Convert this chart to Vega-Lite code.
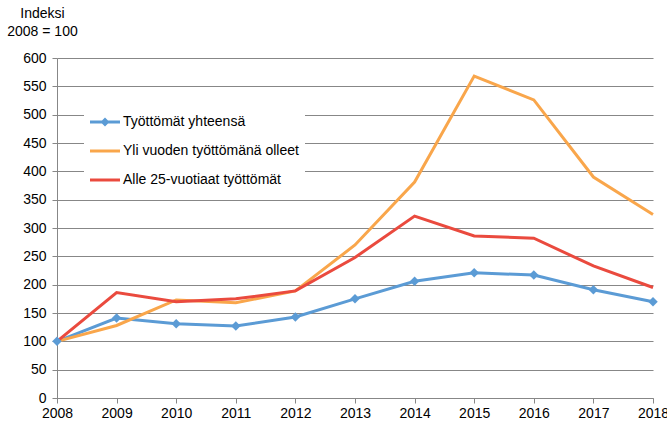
{
  "$schema": "https://vega.github.io/schema/vega-lite/v6.json",
  "width": 596,
  "height": 340,
  "autosize": {"type": "none"},
  "padding": {"left": 57, "top": 58, "right": 14, "bottom": 27},
  "background": "white",
  "config": {
    "font": "Liberation Sans",
    "view": {"stroke": null},
    "axis": {"labelFont": "Liberation Sans", "labelFontSize": 14, "labelColor": "#000", "domainColor": "#878787", "tickColor": "#878787", "gridColor": "#878787", "titleFont": "Liberation Sans"}
  },
  "data": {"values": [
    {"year": 2008, "series": "Työttömät yhteensä", "value": 100},
    {"year": 2009, "series": "Työttömät yhteensä", "value": 141},
    {"year": 2010, "series": "Työttömät yhteensä", "value": 131},
    {"year": 2011, "series": "Työttömät yhteensä", "value": 127},
    {"year": 2012, "series": "Työttömät yhteensä", "value": 143},
    {"year": 2013, "series": "Työttömät yhteensä", "value": 175},
    {"year": 2014, "series": "Työttömät yhteensä", "value": 206},
    {"year": 2015, "series": "Työttömät yhteensä", "value": 221},
    {"year": 2016, "series": "Työttömät yhteensä", "value": 217},
    {"year": 2017, "series": "Työttömät yhteensä", "value": 191},
    {"year": 2018, "series": "Työttömät yhteensä", "value": 170},
    {"year": 2008, "series": "Yli vuoden työttömänä olleet", "value": 100},
    {"year": 2009, "series": "Yli vuoden työttömänä olleet", "value": 128},
    {"year": 2010, "series": "Yli vuoden työttömänä olleet", "value": 173},
    {"year": 2011, "series": "Yli vuoden työttömänä olleet", "value": 168},
    {"year": 2012, "series": "Yli vuoden työttömänä olleet", "value": 189},
    {"year": 2013, "series": "Yli vuoden työttömänä olleet", "value": 270},
    {"year": 2014, "series": "Yli vuoden työttömänä olleet", "value": 381},
    {"year": 2015, "series": "Yli vuoden työttömänä olleet", "value": 568},
    {"year": 2016, "series": "Yli vuoden työttömänä olleet", "value": 526},
    {"year": 2017, "series": "Yli vuoden työttömänä olleet", "value": 390},
    {"year": 2018, "series": "Yli vuoden työttömänä olleet", "value": 324},
    {"year": 2008, "series": "Alle 25-vuotiaat työttömät", "value": 100},
    {"year": 2009, "series": "Alle 25-vuotiaat työttömät", "value": 186},
    {"year": 2010, "series": "Alle 25-vuotiaat työttömät", "value": 170},
    {"year": 2011, "series": "Alle 25-vuotiaat työttömät", "value": 175},
    {"year": 2012, "series": "Alle 25-vuotiaat työttömät", "value": 189},
    {"year": 2013, "series": "Alle 25-vuotiaat työttömät", "value": 248},
    {"year": 2014, "series": "Alle 25-vuotiaat työttömät", "value": 321},
    {"year": 2015, "series": "Alle 25-vuotiaat työttömät", "value": 286},
    {"year": 2016, "series": "Alle 25-vuotiaat työttömät", "value": 282},
    {"year": 2017, "series": "Alle 25-vuotiaat työttömät", "value": 233},
    {"year": 2018, "series": "Alle 25-vuotiaat työttömät", "value": 195}
  ]},
  "encoding": {
    "x": {"field": "year", "type": "quantitative",
      "scale": {"domain": [2008, 2018], "nice": false, "zero": false},
      "axis": {"title": null, "values": [2008,2009,2010,2011,2012,2013,2014,2015,2016,2017,2018], "format": "d", "grid": false, "tickSize": 5, "labelPadding": 3, "labelFlush": false, "labelOverlap": false}},
    "y": {"field": "value", "type": "quantitative",
      "scale": {"domain": [0, 600], "nice": false},
      "axis": {"values": [0,50,100,150,200,250,300,350,400,450,500,550,600], "grid": true, "tickSize": 5, "labelPadding": 6,
        "title": ["Indeksi", "2008 = 100"], "titleAngle": 0, "titleAlign": "center", "titleBaseline": "top",
        "titleX": -15, "titleY": -52, "titleFontSize": 14, "titleFontWeight": "normal", "titleLineHeight": 18, "titleColor": "#000"}},
    "color": {"field": "series", "type": "nominal",
      "scale": {"domain": ["Työttömät yhteensä", "Yli vuoden työttömänä olleet", "Alle 25-vuotiaat työttömät"], "range": ["#5B9BD5", "#F9A64B", "#EA4A3E"]}}
  },
  "layer": [
    {"mark": {"type": "line", "strokeWidth": 3},
     "encoding": {"color": {"field": "series", "type": "nominal",
       "legend": {"title": null, "orient": "none", "legendX": 27, "legendY": 43, "fillColor": "white", "padding": 6,
         "labelFontSize": 14, "labelFont": "Liberation Sans", "labelColor": "#000", "rowPadding": 7, "symbolSize": 900, "labelOffset": 3, "labelLimit": 400,
         "encode": {"symbols": {"update": {
           "shape": {"signal": "datum.value === 'Työttömät yhteensä' ? 'M-1,-0.1L1,-0.1L1,0.1L-1,0.1Z M-0.3,0L0,-0.3L0.3,0L0,0.3Z' : 'M-1,-0.1L1,-0.1L1,0.1L-1,0.1Z'"},
           "fill": {"scale": "color", "field": "value"},
           "fillOpacity": {"value": 1},
           "strokeWidth": {"value": 0}
         }}}}}}},
    {"transform": [{"filter": "datum.series === 'Työttömät yhteensä'"}],
     "mark": {"type": "point", "shape": "diamond", "filled": true, "size": 90, "opacity": 1},
     "encoding": {"color": {"field": "series", "type": "nominal", "legend": null}}}
  ]
}
